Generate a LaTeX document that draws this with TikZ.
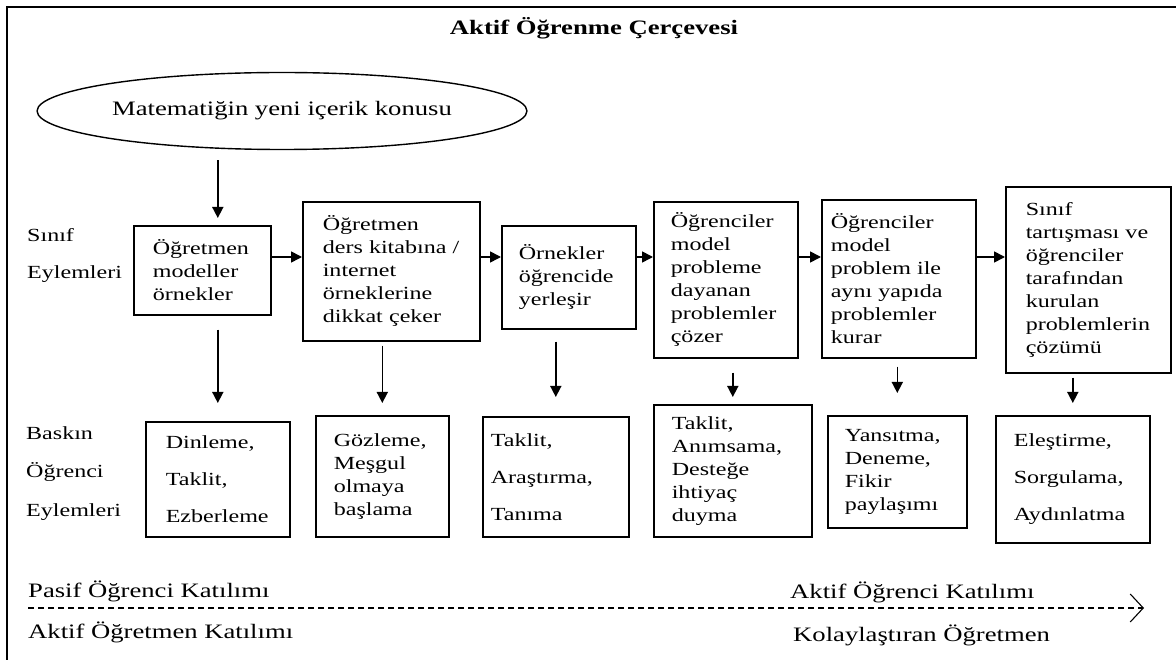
\documentclass[tikz,border=0pt]{standalone}
\usepackage{fontspec}
\setmainfont{Liberation Serif}[FakeStretch=1.3]
\usetikzlibrary{arrows.meta,shapes.geometric}

\newcommand\boxfont{\fontsize{18.5}{23}\selectfont}
\newcommand\bigfont{\fontsize{20.5}{25}\selectfont}

\begin{document}
\begin{tikzpicture}[x=1pt, y=-1pt,
  actbox/.style={draw, line width=1.6pt, anchor=north west, align=left, font=\boxfont, inner ysep=0pt},
  loose/.style={font=\fontsize{18.5}{37}\selectfont},
  flow/.style={line width=1.6pt, -{Triangle[length=11pt,width=11pt]}},
  lbl/.style={anchor=base west, font=\boxfont, inner sep=0pt},
  biglbl/.style={anchor=base west, font=\bigfont, inner sep=0pt}]

\useasboundingbox (0,0) rectangle (1176,660);

% Frame
\draw[line width=2.2pt] (7,660) -- (7,7) -- (1176,7);

% Title and topic
\node[anchor=base, font=\bigfont\bfseries] (title) at (594,35) {Aktif Öğrenme Çerçevesi};
\node[draw, ellipse, line width=1.4pt, minimum width=482pt, minimum height=77pt, font=\bigfont] (topic) at (282,111) {Matematiğin yeni içerik konusu};

% Row labels
\node[lbl] (sinif) at (27,242) {Sınıf};
\node[lbl] (sinifey) at (27,279) {Eylemleri};
\node[lbl] (baskin) at (26,439) {Baskın};
\node[lbl] (ogrenci) at (26,477) {Öğrenci};
\node[lbl] (ogrey) at (26,516) {Eylemleri};

% Class actions
\node[actbox, inner xsep=19pt, text width=99pt, minimum height=89pt] (top1) at (133,225) {Öğretmen\\modeller\\örnekler};
\node[actbox, inner xsep=20pt, text width=137pt, minimum height=139pt] (top2) at (302,201) {Öğretmen\\ders~kitabına~/\\internet\\örneklerine\\dikkat~çeker};
\node[actbox, inner xsep=17pt, text width=100pt, minimum height=103pt] (top3) at (501,225) {Örnekler\\öğrencide\\yerleşir};
\node[actbox, inner xsep=17pt, text width=110pt, minimum height=156pt] (top4) at (653,201) {Öğrenciler\\model\\probleme\\dayanan\\problemler\\çözer};
\node[actbox, inner xsep=9pt, text width=136pt, minimum height=158pt] (top5) at (821,199) {Öğrenciler\\model\\problem~ile\\aynı~yapıda\\problemler\\kurar};
\node[actbox, inner xsep=20pt, text width=125pt, minimum height=186pt] (top6) at (1005,186) {Sınıf\\tartışması~ve\\öğrenciler\\tarafından\\kurulan\\problemlerin\\çözümü};

% Dominant student actions
\node[actbox, loose, inner xsep=20pt, text width=104pt, minimum height=115pt] (low1) at (145,421) {Dinleme,\\Taklit,\\Ezberleme};
\node[actbox, inner xsep=18pt, text width=97pt, minimum height=121pt] (low2) at (315,415) {Gözleme,\\Meşgul\\olmaya\\başlama};
\node[actbox, loose, inner xsep=8pt, text width=130pt, minimum height=120pt] (low3) at (482,416) {Taklit,\\Araştırma,\\Tanıma};
\node[actbox, inner xsep=18pt, text width=122pt, minimum height=132pt] (low4) at (653,404) {Taklit,\\Anımsama,\\Desteğe\\ihtiyaç\\duyma};
\node[actbox, inner xsep=17pt, text width=105pt, minimum height=112pt] (low5) at (827,415) {Yansıtma,\\Deneme,\\Fikir\\paylaşımı};
\node[actbox, loose, inner xsep=18pt, text width=118pt, minimum height=127pt] (low6) at (995,415) {Eleştirme,\\Sorgulama,\\Aydınlatma};

% Arrows
\coordinate (flowrow) at (0,257);
\draw[flow, shorten <=10pt, shorten >=7pt] (topic.south -| low1.north) -- (top1.north -| low1.north);
\foreach \a/\b in {1/2,2/3,3/4,4/5,5/6}
  \draw[flow] (top\a.east |- flowrow) -- (top\b.west |- flowrow);
\foreach \i/\s/\e in {1/14pt/18pt,2/4pt/12pt,3/12pt/19pt,4/14pt/7pt,5/8pt/22pt,6/4pt/12pt}
  \draw[flow, shorten <=\s, shorten >=\e] (top\i.south -| low\i.north) -- (low\i.north);

% Participation scale
\node[biglbl] (pasif) at (28,597) {Pasif Öğrenci Katılımı};
\node[biglbl] (aktifogretmen) at (28,638) {Aktif Öğretmen Katılımı};
\node[biglbl] (aktifogrenci) at (790,598) {Aktif Öğrenci Katılımı};
\node[biglbl] (kolay) at (793,641) {Kolaylaştıran Öğretmen};
\coordinate (scalestart) at (28,608);
\coordinate (scaleend) at (1144,608);
\draw[line width=1.1pt, dash pattern=on 6pt off 4pt, -{Straight Barb[length=13pt,width=28pt]}] (scalestart) -- (scaleend);

\end{tikzpicture}
\end{document}
